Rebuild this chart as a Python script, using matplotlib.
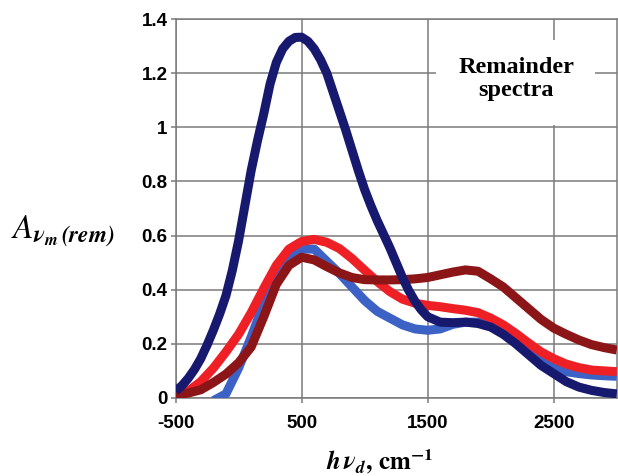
import numpy as np
import matplotlib
matplotlib.use("Agg")
import matplotlib.pyplot as plt
from matplotlib.patches import Rectangle

# data (x in cm^-1)
energy = list(range(-500, 3001, 100))

navy_x = list(range(-500, 1500, 50)) + list(range(1500, 3001, 100))
navy = [0.025, 0.045, 0.072, 0.105, 0.145, 0.195, 0.25, 0.31, 0.378, 0.47,
        0.58, 0.71, 0.84, 0.95, 1.05, 1.16, 1.24, 1.29, 1.318, 1.332,
        1.333, 1.318, 1.29, 1.25, 1.2, 1.13, 1.06, 0.99, 0.915, 0.84,
        0.77, 0.71, 0.655, 0.605, 0.555, 0.50, 0.445, 0.397, 0.357, 0.325,
        0.30, 0.28, 0.278, 0.28, 0.275, 0.262, 0.235, 0.20, 0.16, 0.12,
        0.09, 0.06, 0.04, 0.028, 0.02, 0.015]

blue_x = list(range(-200, 3001, 100))
blue = [-0.01, 0.015, 0.11, 0.225, 0.35, 0.45, 0.52, 0.55, 0.55, 0.505,
        0.46, 0.41, 0.36, 0.32, 0.295, 0.27, 0.255, 0.25, 0.255, 0.272,
        0.28, 0.28, 0.268, 0.248, 0.22, 0.18, 0.15, 0.12, 0.097, 0.09,
        0.085, 0.082, 0.08]

red = [0.005, 0.025, 0.06, 0.11, 0.17, 0.235, 0.315, 0.405, 0.49, 0.55,
       0.578, 0.586, 0.575, 0.552, 0.515, 0.472, 0.43, 0.393, 0.365, 0.35,
       0.342, 0.337, 0.33, 0.324, 0.315, 0.295, 0.27, 0.238, 0.203, 0.17,
       0.145, 0.125, 0.112, 0.103, 0.10, 0.097]

darkred = [0.01, 0.018, 0.03, 0.057, 0.088, 0.13, 0.188, 0.30, 0.42, 0.49,
           0.52, 0.51, 0.485, 0.462, 0.445, 0.437, 0.436, 0.436, 0.437, 0.44,
           0.445, 0.455, 0.465, 0.473, 0.468, 0.44, 0.41, 0.37, 0.33, 0.29,
           0.258, 0.235, 0.214, 0.197, 0.186, 0.177]

xticks = [-500, 500, 1500, 2500]
yticks = [0, 0.2, 0.4, 0.6, 0.8, 1.0, 1.2, 1.4]
ytick_labels = ["0", "0.2", "0.4", "0.6", "0.8", "1", "1.2", "1.4"]
xtick_labels = ["-500", "500", "1500", "2500"]

plt.rcParams['mathtext.fontset'] = 'stix'
plt.rcParams['axes.unicode_minus'] = False
grid_grey = '#7a7a7a'

fig = plt.figure(figsize=(6.18, 4.76), dpi=100)
ax = fig.add_axes([0.284, 0.164, 0.714, 0.796])

ax.set_xlim(-500, 3000)
ax.set_ylim(0, 1.4)
ax.set_xticks(xticks)
ax.set_xticklabels(xtick_labels)
ax.set_yticks(yticks)
ax.set_yticklabels(ytick_labels)
ax.grid(True, color=grid_grey, linewidth=1.1, zorder=0)
ax.set_axisbelow(True)
for s in ax.spines.values():
    s.set_color(grid_grey)
    s.set_linewidth(1.1)
ax.tick_params(axis='both', color=grid_grey, width=1.1, length=3.6,
               labelsize=13.5)
ax.tick_params(axis='y', pad=2)
ax.tick_params(axis='x', pad=9)
for lab in ax.get_xticklabels() + ax.get_yticklabels():
    lab.set_fontweight('bold')
    lab.set_family('Liberation Sans')

# white box behind the caption
ax.add_patch(Rectangle((0.590, 0.720), 0.361, 0.225, transform=ax.transAxes,
                       facecolor='white', edgecolor='none', zorder=1))
ax.text(0.772, 0.842, "Remainder\nspectra", transform=ax.transAxes,
        ha='center', va='center', fontsize=17.5, fontweight='bold',
        family='Liberation Serif', linespacing=1.15, zorder=2)

lw = 6.5
style = dict(lw=lw, solid_capstyle='butt', solid_joinstyle='round')
ax.plot(blue_x, blue, color='#3c62c6', zorder=3, **style)
ax.plot(energy, red, color='#ee2026', zorder=4, **style)
ax.plot(energy, darkred, color='#8c1518', zorder=5, **style)
ax.plot(navy_x, navy, color='#17196e', zorder=6, **style)

fig.text(0.018, 0.515, r'$\mathit{A}_{\mathbfit{\nu}_{\mathbfit{m}}\,\mathbfit{(rem)}}$',
         fontsize=24, ha='left', va='center')
fig.text(0.615, 0.014, r'$\mathbfit{h\,\nu}_{\mathbfit{d}}\mathbf{,\,cm}^{\mathbf{-1}}$',
         fontsize=18, ha='center', va='baseline')

fig.savefig("out.png", dpi=100)
